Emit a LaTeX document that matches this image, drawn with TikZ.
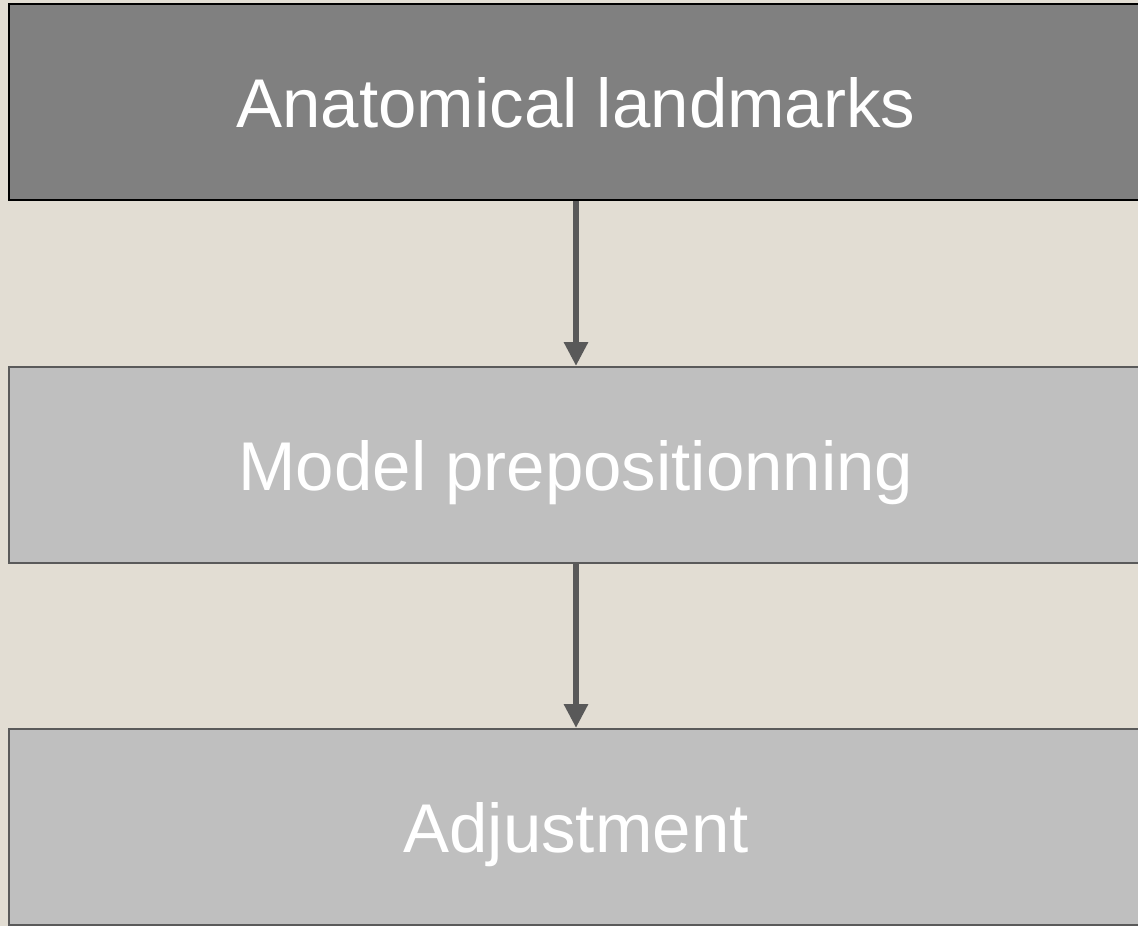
\documentclass[tikz,border=0pt]{standalone}
\usepackage{fontspec}
\setmainfont{Liberation Sans}
\usetikzlibrary{arrows.meta}
\definecolor{bgcol}{HTML}{E2DDD3}
\definecolor{darkfill}{HTML}{808080}
\definecolor{lightfill}{HTML}{BFBFBF}
\definecolor{edgegray}{HTML}{5A5A5A}
\definecolor{arrowgray}{HTML}{595959}
\tikzset{
  stagebox/.style={rectangle, minimum width=1134pt, minimum height=196pt,
    inner sep=0pt, text=white, font=\fontsize{69}{80}\selectfont,
    text height=50pt, text depth=-2pt},
  firststage/.style={stagebox, fill=darkfill, draw=black, line width=2.5pt},
  laterstage/.style={stagebox, fill=lightfill, draw=edgegray, line width=2pt},
  flowarrow/.style={draw=arrowgray, line width=6pt,
    -{Triangle[width=23pt,length=24pt]}}
}
\begin{document}
\begin{tikzpicture}[x=1pt,y=-1pt]
  % canvas
  \fill[bgcol] (0,0) rectangle (1138,926);
  \useasboundingbox (0,0) rectangle (1138,926);
  \clip (0,0) rectangle (1138,926);
  % stages
  \node[firststage] (landmarks) at (576,102) {Anatomical landmarks};
  \node[laterstage] (prepos) at (576,465) {Model prepositionning};
  \node[laterstage] (adjust) at (576,827) {Adjustment};
  % flow
  \draw[flowarrow] (landmarks.south) -- (prepos.north);
  \draw[flowarrow] (prepos.south) -- (adjust.north);
\end{tikzpicture}
\end{document}
